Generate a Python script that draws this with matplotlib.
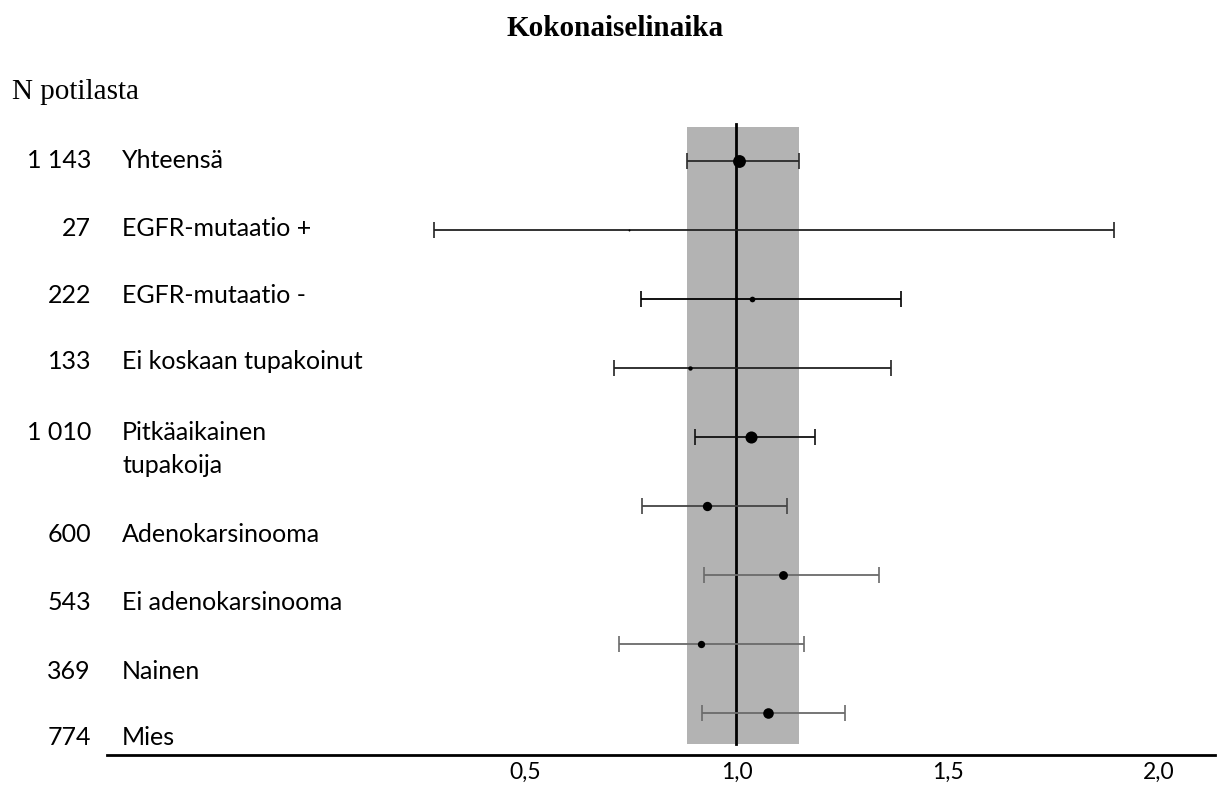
import matplotlib
matplotlib.use("Agg")
import matplotlib.pyplot as plt
from matplotlib.transforms import blended_transform_factory

# ---- data ----
title = "Kokonaiselinaika"
n_header = "N potilasta"
groups = ["Yhteensä", "EGFR-mutaatio +", "EGFR-mutaatio -", "Ei koskaan tupakoinut",
          "Pitkäaikainen\ntupakoija", "Adenokarsinooma", "Ei adenokarsinooma", "Nainen", "Mies"]
n_patients = ["1 143", "27", "222", "133", "1 010", "600", "543", "369", "774"]
n_values = [1143, 27, 222, 133, 1010, 600, 543, 369, 774]
hr = [1.006, 0.745, 1.037, 0.890, 1.034, 0.930, 1.110, 0.916, 1.075]
ci_low = [0.883, 0.283, 0.774, 0.710, 0.902, 0.776, 0.923, 0.722, 0.918]
ci_high = [1.148, 1.895, 1.390, 1.366, 1.186, 1.120, 1.338, 1.160, 1.257]
xticks = [0.5, 1.0, 1.5, 2.0]
xticklabels = ["0,5", "1,0", "1,5", "2,0"]

# ---- style / layout ----
line_colors = ["#2a2a2a", "#222222", "#000000", "#222222", "#111111",
               "#444444", "#6a6a6a", "#6a6a6a", "#6a6a6a"]
label_offsets = [-0.02, -0.02, -0.05, -0.09, -0.07, 0.42, 0.40, 0.40, 0.36]
sans = ["Lato", "DejaVu Sans"]
serif = ["Liberation Serif", "DejaVu Serif"]
fs_label = 18
fs_tick = 16.5
fs_serif = 21

fig = plt.figure(figsize=(12.24, 7.89), dpi=100)
ax = fig.add_axes([107 / 1224, 1 - 755 / 789, 1108 / 1224, 635 / 789])

rows = list(range(len(groups)))
ax.set_xlim(-0.4917, 2.1339)
ax.set_ylim(8.617, -0.6025)

# shaded band = overall CI
ax.fill_between([ci_low[0], ci_high[0]], -0.50, 8.457, color="#b3b3b3", lw=0, zorder=1)
ax.plot([1.0, 1.0], [-0.55, 8.457], color="black", lw=2.0, zorder=3)

for i in rows:
    ax.errorbar(hr[i], i, xerr=[[hr[i] - ci_low[i]], [ci_high[i] - hr[i]]],
                fmt="none", ecolor=line_colors[i], elinewidth=1.3,
                capsize=5.5, capthick=1.2, zorder=4)
    ax.scatter([hr[i]], [i], s=0.075 * n_values[i], color="black", zorder=5, lw=0)

for side in ["top", "right", "left"]:
    ax.spines[side].set_visible(False)
ax.spines["bottom"].set_linewidth(2.0)
ax.set_yticks([])
ax.set_xticks(xticks)
ax.set_xticklabels(xticklabels, family=sans, fontsize=fs_tick)
ax.tick_params(axis="x", length=0, pad=5)

# left-hand labels
tr = blended_transform_factory(fig.transFigure, ax.transData)
for i in rows:
    y = i + label_offsets[i]
    ax.text(91 / 1224, y, n_patients[i], transform=tr,
            ha="right", va="center", family=sans, fontsize=fs_label)
    for k, line in enumerate(groups[i].split("\n")):
        ax.text(122 / 1224, y + 0.49 * k, line, transform=tr,
                ha="left", va="center", family=sans, fontsize=fs_label)

fig.text(615 / 1224, 1 - 28 / 789, title, ha="center", va="center",
         family=serif, fontweight="bold", fontsize=fs_serif)
fig.text(12 / 1224, 1 - 92 / 789, n_header, ha="left", va="center",
         family=serif, fontsize=fs_serif)

fig.savefig("out.png", dpi=100)
